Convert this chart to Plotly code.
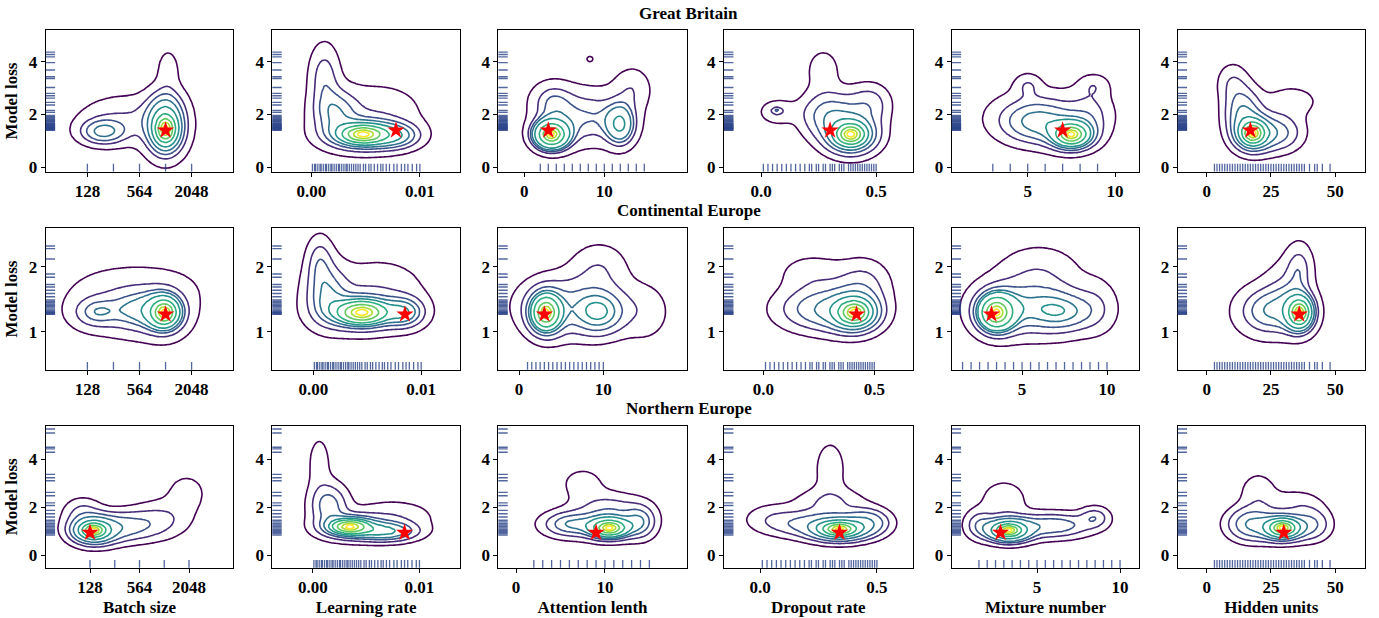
import numpy as np
import plotly.graph_objects as go

W, H = 1379, 618
regions = ["Great Britain", "Continental Europe", "Northern Europe"]
params = ["Batch size", "Learning rate", "Attention lenth", "Dropout rate", "Mixture number", "Hidden units"]

batch_tickvals = [0, 2, 4]
batch_ticktext = ["128", "564", "2048"]

# ---------------- trial losses (y rugs) ----------------
gb_loss = [4.36, 4.27, 4.18, 3.96, 3.68, 3.43, 3.36, 3.02, 2.80, 2.71, 2.62, 2.46, 2.36, 2.15, 2.08,
           1.96, 1.92, 1.88, 1.84, 1.80, 1.77, 1.74, 1.71, 1.68, 1.65, 1.62, 1.60, 1.58, 1.56, 1.54,
           1.52, 1.50, 1.48, 1.46, 1.44, 1.42, 1.40]
ce_loss = [2.32, 2.28, 2.12, 1.89, 1.84, 1.73, 1.69, 1.64, 1.59, 1.54, 1.49, 1.47, 1.45, 1.43, 1.41,
           1.39, 1.37, 1.35, 1.33, 1.31, 1.30, 1.29, 1.28, 1.27]
ne_loss = [5.27, 5.10, 4.51, 4.44, 4.30, 3.38, 3.24, 3.11, 2.63, 2.49, 2.19, 2.08, 1.88, 1.74, 1.60,
           1.47, 1.40, 1.33, 1.27, 1.21, 1.15, 1.10, 1.05, 1.00, 0.95, 0.90, 0.85]

# ---------------- trial hyper-parameter values (x rugs) ----------------
batch_idx = [0, 1, 2, 3, 4]
lr_trials = [0.0001, 0.0003, 0.0004, 0.0006, 0.0008, 0.0009, 0.0011, 0.0013, 0.0014, 0.0016, 0.0018,
             0.0019, 0.0021, 0.0023, 0.0025, 0.0026, 0.0028, 0.0030, 0.0032, 0.0033, 0.0035, 0.0037,
             0.0039, 0.0041, 0.0043, 0.0045, 0.0048, 0.0050, 0.0053, 0.0055, 0.0058, 0.0061, 0.0064,
             0.0066, 0.0069, 0.0072, 0.0076, 0.0079, 0.0083, 0.0086, 0.0089, 0.0093, 0.0097, 0.0100]
att_trials = [2, 3, 4, 5, 6, 7, 8, 9, 10, 11, 12, 13, 14, 15]
ce_att_trials = [1, 1.5, 2, 2.5, 3, 3.5, 4, 4.5, 5, 5.5, 6, 6.5, 7, 7.5, 8, 8.5, 9, 9.5, 10]
drop_trials = [0.01, 0.03, 0.05, 0.07, 0.09, 0.11, 0.13, 0.15, 0.17, 0.19, 0.21, 0.22, 0.24, 0.25,
               0.27, 0.28, 0.30, 0.31, 0.32, 0.34, 0.35, 0.36, 0.38, 0.39, 0.40, 0.41, 0.42, 0.43,
               0.44, 0.45, 0.46, 0.47, 0.48, 0.49, 0.50]
mix_trials = [3, 4, 5, 6, 7, 8, 9]
ce_mix_trials = [1.5, 2, 2.5, 3, 3.5, 4, 4.5, 5, 5.5, 6, 6.5, 7, 7.5, 8, 8.5, 9, 9.5, 10]
hid_trials = [3, 4, 5, 6, 7, 8, 9, 10, 11, 12, 13, 14, 15, 16, 17, 18, 19, 20, 21, 22, 23, 24, 25,
              26, 27, 28, 29, 30, 31, 32, 33, 34, 35, 36, 37, 38, 40, 42, 43, 45, 48]

# ---------------- best trial (stars) ----------------
gb_best_x = [3, 0.0078, 3, 0.30, 7, 17]
ce_best_x = [3, 0.0085, 3, 0.42, 3.2, 36]
ne_best_x = [0, 0.0086, 9, 0.34, 2.8, 30]
best_loss = [1.40, 1.27, 0.95]

# ---------------- estimated density peaks (cx, cy, sx, sy, weight, kind) ----------------
# kind "c": sharp peak, kind "g": smooth bump
gb_batch_peaks = [(3.0, 1.45, 0.55, 0.75, 0.6, "c"), (3.0, 2.3, 0.45, 0.5, 0.06, "g"),
                  (0.6, 1.35, 0.55, 0.3, 0.08, "g"), (1.5, 1.8, 1.2, 0.6, 0.14, "g"),
                  (3.1, 3.7, 0.3, 0.55, 0.02, "g")]
gb_lr_peaks = [(0.0048, 1.25, 0.0026, 0.45, 0.55, "c"), (0.0078, 1.2, 0.0014, 0.3, 0.07, "g"),
               (0.0022, 2.1, 0.0013, 0.55, 0.1, "g"), (0.0012, 3.4, 0.0009, 0.8, 0.07, "g"),
               (0.006, 2.2, 0.003, 0.7, 0.1, "g")]
gb_att_peaks = [(3.4, 1.25, 1.6, 0.4, 0.5, "c"), (12, 1.6, 1.2, 0.5, 0.09, "g"),
                (8, 1.9, 3.5, 0.7, 0.2, "g"), (13.5, 3.0, 1.6, 0.55, 0.04, "g"),
                (3.5, 2.5, 1.8, 0.5, 0.06, "g"), (8.2, 4.1, 0.45, 0.12, 0.0015, "g")]
gb_drop_peaks = [(0.39, 1.25, 0.085, 0.55, 0.55, "c"), (0.3, 2.0, 0.08, 0.55, 0.15, "g"),
                 (0.07, 2.1, 0.05, 0.3, 0.02, "g"), (0.27, 3.7, 0.055, 0.6, 0.03, "g"),
                 (0.47, 2.4, 0.06, 0.5, 0.06, "g"), (0.068, 2.15, 0.012, 0.06, 0.0012, "g")]
gb_mix_peaks = [(7.5, 1.25, 0.9, 0.4, 0.5, "c"), (5.5, 1.7, 1.3, 0.5, 0.18, "g"),
                (6.0, 2.0, 2.2, 0.7, 0.15, "g"), (5.0, 3.1, 0.5, 0.3, 0.015, "g"),
                (8.8, 3.1, 0.6, 0.3, 0.015, "g"), (8.6, 2.0, 0.8, 0.6, 0.05, "g")]
gb_hid_peaks = [(18, 1.3, 5.5, 0.5, 0.55, "c"), (14, 2.1, 4.5, 0.6, 0.15, "g"), (28, 1.3, 6, 0.45, 0.12, "g"),
                (10, 3.2, 4, 0.5, 0.04, "g"), (33, 2.5, 8, 0.45, 0.05, "g")]

ce_batch_peaks = [(2.95, 1.3, 0.55, 0.22, 0.55, "c"), (2.0, 1.32, 0.8, 0.2, 0.15, "g"),
                  (0.3, 1.3, 0.55, 0.15, 0.07, "g"), (1.5, 1.4, 1.3, 0.28, 0.12, "g"),
                  (2.0, 1.7, 1.8, 0.25, 0.08, "g")]
ce_lr_peaks = [(0.0045, 1.3, 0.0028, 0.22, 0.55, "c"), (0.0085, 1.3, 0.0012, 0.15, 0.07, "g"),
               (0.0012, 1.6, 0.0013, 0.3, 0.12, "g"), (0.0006, 2.1, 0.0008, 0.25, 0.04, "g"),
               (0.006, 1.7, 0.003, 0.3, 0.1, "g")]
ce_att_peaks = [(3.2, 1.3, 1.4, 0.22, 0.5, "c"), (9.5, 1.3, 1.8, 0.2, 0.12, "g"),
                (6.5, 1.4, 4, 0.3, 0.25, "g"), (9.5, 2.0, 2.2, 0.25, 0.05, "g"),
                (15, 1.3, 2, 0.3, 0.04, "g")]
ce_drop_peaks = [(0.41, 1.3, 0.085, 0.22, 0.55, "c"), (0.27, 1.35, 0.13, 0.22, 0.25, "g"),
                 (0.22, 1.9, 0.1, 0.2, 0.05, "g"), (0.45, 1.75, 0.08, 0.25, 0.08, "g")]
ce_mix_peaks = [(3.5, 1.3, 0.85, 0.22, 0.5, "c"), (7.5, 1.3, 1.3, 0.2, 0.1, "g"),
                (5.5, 1.4, 2.0, 0.3, 0.28, "g"), (6, 2.0, 1.6, 0.25, 0.06, "g"),
                (9.5, 1.4, 0.8, 0.3, 0.03, "g")]
ce_hid_peaks = [(36, 1.3, 4.5, 0.22, 0.55, "c"), (24, 1.32, 8, 0.25, 0.25, "g"),
                (36, 2.0, 3.5, 0.25, 0.06, "g"), (31, 1.7, 6, 0.3, 0.08, "g")]

ne_batch_peaks = [(0.15, 1.05, 0.65, 0.4, 0.6, "c"), (1.3, 1.2, 0.9, 0.4, 0.15, "g"),
                  (2.8, 1.5, 0.8, 0.5, 0.08, "g"), (3.9, 2.6, 0.6, 0.6, 0.04, "g"),
                  (-0.3, 1.8, 0.5, 0.4, 0.04, "g")]
ne_lr_peaks = [(0.0035, 1.2, 0.002, 0.35, 0.5, "c"), (0.0068, 1.0, 0.0018, 0.25, 0.15, "g"),
               (0.0015, 2.1, 0.0011, 0.55, 0.12, "g"), (0.0006, 3.8, 0.0008, 0.9, 0.035, "g"),
               (0.0075, 1.6, 0.0025, 0.45, 0.08, "g")]
ne_att_peaks = [(10.5, 1.15, 1.9, 0.35, 0.5, "c"), (6, 1.3, 2.0, 0.35, 0.12, "g"),
                (10.5, 1.9, 2.5, 0.45, 0.12, "g"), (7.5, 3.0, 1.8, 0.5, 0.04, "g"),
                (14, 1.4, 1.2, 0.45, 0.08, "g")]
ne_drop_peaks = [(0.34, 1.1, 0.09, 0.35, 0.55, "c"), (0.22, 1.3, 0.12, 0.35, 0.12, "g"),
                 (0.3, 3.6, 0.05, 0.9, 0.045, "g"), (0.46, 1.4, 0.06, 0.35, 0.08, "g"),
                 (0.05, 1.6, 0.08, 0.4, 0.03, "g"), (0.3, 2.2, 0.1, 0.4, 0.06, "g")]
ne_mix_peaks = [(3.3, 1.05, 1.0, 0.35, 0.55, "c"), (6, 1.25, 1.5, 0.35, 0.15, "g"),
                (3.0, 2.3, 1.0, 0.6, 0.06, "g"), (8.5, 1.6, 0.6, 0.3, 0.03, "g"),
                (1.5, 1.3, 0.6, 0.4, 0.04, "g")]
ne_hid_peaks = [(29.5, 1.15, 6, 0.38, 0.55, "c"), (17, 1.3, 6, 0.45, 0.15, "g"),
                (41, 1.3, 5, 0.45, 0.08, "g"), (20, 2.6, 5, 0.6, 0.05, "g"),
                (35, 2.2, 7, 0.4, 0.04, "g")]

# sharp-peak profile: relative widths and mass shares
core_scale = [0.15, 0.35, 0.65, 1.0]
core_share = [0.2, 0.25, 0.3, 0.25]

# ---------------- layout geometry ----------------
x_ranges = [
    [[-1.6, 5.6], [-0.0036, 0.0137], [-3.25, 20.3], [-0.161, 0.659], [0.647, 11.39], [-11.3, 61.6]],
    [[-1.6, 5.6], [-0.0038, 0.0136], [-2.47, 19.9], [-0.177, 0.673], [0.86, 11.9], [-11.3, 61.6]],
    [[-1.79, 5.79], [-0.0038, 0.0138], [-2.0, 19.2], [-0.154, 0.653], [-0.14, 11.16], [-11.3, 61.6]],
]
y_ranges = [[-0.16, 5.18], [0.42, 2.59], [-0.51, 5.40]]
y_ticks = [[0, 2, 4], [1, 2], [0, 2, 4]]
col_px = [(45.7, 233.3), (272.3, 460), (498.3, 686.7), (724, 912.7), (951.7, 1139.3), (1177.7, 1365)]
row_px = [(30.7, 173.3), (230.7, 373.3), (430, 573.3)]
title_px = [14, 213, 413]

peaks = [
    [gb_batch_peaks, gb_lr_peaks, gb_att_peaks, gb_drop_peaks, gb_mix_peaks, gb_hid_peaks],
    [ce_batch_peaks, ce_lr_peaks, ce_att_peaks, ce_drop_peaks, ce_mix_peaks, ce_hid_peaks],
    [ne_batch_peaks, ne_lr_peaks, ne_att_peaks, ne_drop_peaks, ne_mix_peaks, ne_hid_peaks],
]
losses = [gb_loss, ce_loss, ne_loss]
x_trials = [
    [batch_idx, lr_trials, att_trials, drop_trials, mix_trials, hid_trials],
    [batch_idx, lr_trials, ce_att_trials, drop_trials, ce_mix_trials, hid_trials],
    [batch_idx, lr_trials, att_trials, drop_trials, ce_mix_trials, hid_trials],
]
best_x = [gb_best_x, ce_best_x, ne_best_x]

RUG = "rgba(40,65,135,0.8)"
FONT = "Liberation Serif"


def gauss(X, Y, cx, cy, sx, sy, w):
    return w / (sx * sy) * np.exp(-0.5 * (((X - cx) / sx) ** 2 + ((Y - cy) / sy) ** 2))


def iso_proportion_grid(comps, xr, yr):
    sx_span = xr[1] - xr[0]
    sy_span = yr[1] - yr[0]
    xg = np.linspace(xr[0] - 0.4 * sx_span, xr[1] + 0.4 * sx_span, 150)
    yg = np.linspace(yr[0] - 0.4 * sy_span, yr[1] + 0.4 * sy_span, 130)
    X, Y = np.meshgrid(xg, yg)
    Z = np.zeros_like(X)
    for cx, cy, sx, sy, w, kind in comps:
        if kind == "c":
            for k, sh in zip(core_scale, core_share):
                Z += gauss(X, Y, cx, cy, sx * k, sy * k, w * sh)
        else:
            Z += gauss(X, Y, cx, cy, sx, sy, w)
    d = Z.ravel()
    order = np.argsort(d)
    cum = np.cumsum(d[order])
    cum /= cum[-1]
    P = np.empty_like(d)
    P[order] = cum
    return xg, yg, np.round(P.reshape(Z.shape), 4)


fig = go.Figure()
shapes = []
layout = {}
step = 0.95 / 9
for r in range(3):
    for c in range(6):
        n = r * 6 + c + 1
        xa = "x" if n == 1 else f"x{n}"
        ya = "y" if n == 1 else f"y{n}"
        xr = x_ranges[r][c]
        xg, yg, P = iso_proportion_grid(peaks[r][c], xr, y_ranges[r])
        fig.add_trace(go.Contour(
            x=xg, y=yg, z=P, xaxis=xa, yaxis=ya,
            contours=dict(start=0.05, end=0.05 + 8 * step + 1e-6, size=step, coloring="lines"),
            colorscale="Viridis", zmin=0.05, zmax=1.0, zauto=False, showscale=False,
            line=dict(width=1.6, smoothing=1.0), hoverinfo="skip"))
        fig.add_trace(go.Scatter(
            x=[best_x[r][c]], y=[best_loss[r]], xaxis=xa, yaxis=ya, mode="markers",
            marker=dict(symbol="star", size=13, color="red", line=dict(width=0)),
            hoverinfo="skip", showlegend=False))
        for v in x_trials[r][c]:
            shapes.append(dict(type="line", xref=xa, yref=f"{ya} domain", x0=v, x1=v, y0=0, y1=0.055,
                               line=dict(color=RUG, width=1.3)))
        for v in losses[r]:
            shapes.append(dict(type="line", xref=f"{xa} domain", yref=ya, x0=0, x1=0.05, y0=v, y1=v,
                               line=dict(color=RUG, width=1.4)))
        x0p, x1p = col_px[c]
        y0p, y1p = row_px[r]
        xkey = "xaxis" if n == 1 else f"xaxis{n}"
        ykey = "yaxis" if n == 1 else f"yaxis{n}"
        tickfont = dict(family=FONT, size=17, color="black", weight="bold")
        xax = dict(domain=[x0p / W, x1p / W], range=xr, anchor=ya, showline=True, mirror=True,
                   linecolor="black", linewidth=1, ticks="outside", ticklen=4, tickcolor="black",
                   showgrid=False, zeroline=False, tickfont=tickfont)
        if c == 0:
            xax.update(tickmode="array", tickvals=batch_tickvals, ticktext=batch_ticktext)
        elif c == 1:
            xax.update(tickmode="array", tickvals=[0, 0.01], ticktext=["0.00", "0.01"])
        elif c == 2:
            xax.update(tickmode="array", tickvals=[0, 10], ticktext=["0", "10"])
        elif c == 3:
            xax.update(tickmode="array", tickvals=[0, 0.5], ticktext=["0.0", "0.5"])
        elif c == 4:
            xax.update(tickmode="array", tickvals=[5, 10], ticktext=["5", "10"])
        else:
            xax.update(tickmode="array", tickvals=[0, 25, 50], ticktext=["0", "25", "50"])
        if r == 2:
            xax["title"] = dict(text=params[c], font=dict(family=FONT, size=17, color="black", weight="bold"),
                                standoff=4)
        yax = dict(domain=[1 - y1p / H, 1 - y0p / H], range=y_ranges[r], anchor=xa, showline=True,
                   mirror=True, linecolor="black", linewidth=1, ticks="outside", ticklen=4,
                   tickcolor="black", showgrid=False, zeroline=False, tickfont=tickfont,
                   tickmode="array", tickvals=y_ticks[r], ticktext=[str(t) for t in y_ticks[r]])
        if c == 0:
            yax["title"] = dict(text="Model loss", font=dict(family=FONT, size=17, color="black", weight="bold"),
                                standoff=6)
        layout[xkey] = xax
        layout[ykey] = yax

annotations = []
for r in range(3):
    annotations.append(dict(text=regions[r], x=0.4996, y=1 - title_px[r] / H, xref="paper", yref="paper",
                            showarrow=False, xanchor="center", yanchor="middle",
                            font=dict(family=FONT, size=17, color="black", weight="bold")))

fig.update_layout(width=W, height=H, margin=dict(l=0, r=0, t=0, b=0), paper_bgcolor="white",
                  plot_bgcolor="white", showlegend=False, shapes=shapes, annotations=annotations, **layout)
fig.write_html("out.html")
